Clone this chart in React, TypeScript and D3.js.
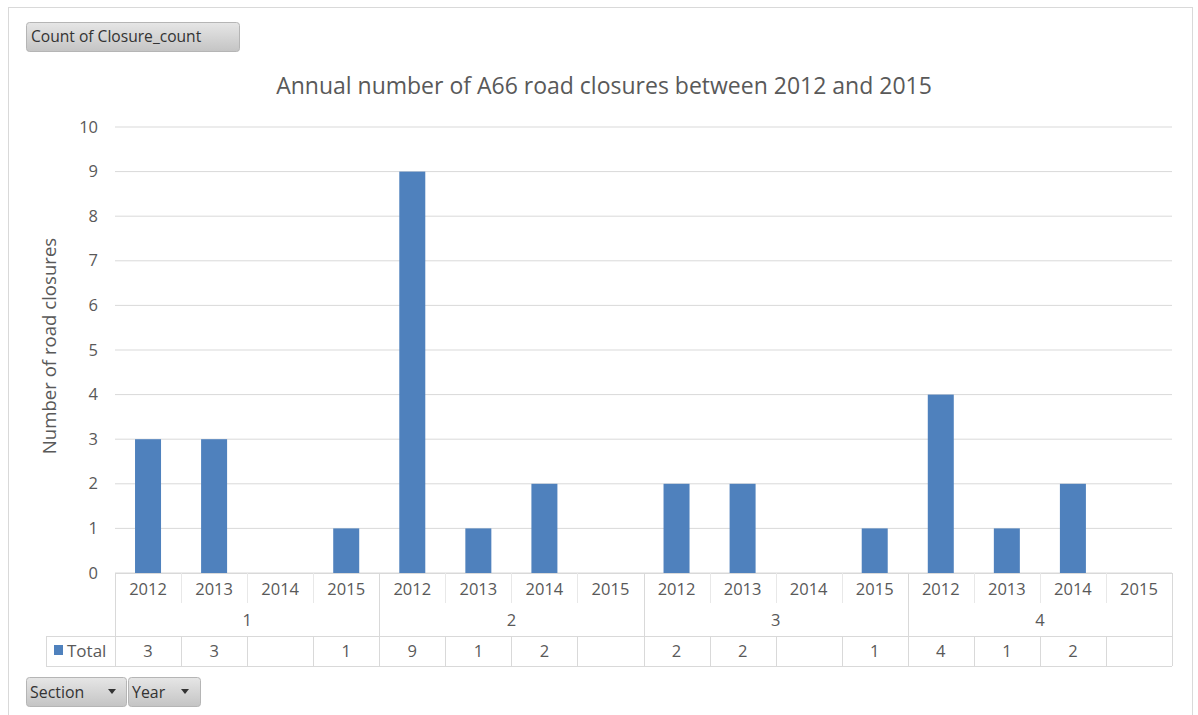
import React from "react";
import * as d3 from "d3";

const sections = ["1", "2", "3", "4"];
const years = ["2012", "2013", "2014", "2015"];
const totals: (number | null)[] = [3, 3, null, 1, 9, 1, 2, null, 2, 2, null, 1, 4, 1, 2, null];
const yTicks = [0, 1, 2, 3, 4, 5, 6, 7, 8, 9, 10];
const title = "Annual number of A66 road closures between 2012 and 2015";
const yLabel = "Number of road closures";

const FONT = "'Open Sans', Lato, sans-serif";
const TXT = "#595959";

export default function App() {
  const W = 1198, H = 715;
  const left = 115, right = 1172, top = 127, bottom = 573;
  const cats = sections.flatMap((s) => years.map((y) => `${s}|${y}`));
  const x = d3.scaleBand<string>().domain(cats).range([left, right]).paddingInner(0).paddingOuter(0);
  const y = d3.scaleLinear().domain([0, 10]).range([bottom, top]);
  const bw = 26;
  const row1 = bottom, row2 = 605, row3 = 636, row4 = 666;
  const secX = d3.scaleBand<string>().domain(sections).range([left, right]);

  return (
    <svg width={W} height={H} style={{ position: "absolute", left: 0, top: 0 }} fontFamily={FONT}>
      <defs>
        <linearGradient id="btn" x1="0" y1="0" x2="0" y2="1">
          <stop offset="0" stopColor="#e6e6e6" />
          <stop offset="1" stopColor="#c4c4c4" />
        </linearGradient>
      </defs>
      <rect x={0} y={0} width={W} height={H} fill="#fff" />
      <rect x={8.5} y={7.5} width={1184} height={720} fill="#fff" stroke="#d9d9d9" />
      {/* field button */}
      <rect x={26.5} y={22.5} width={213} height={29} rx={3} fill="url(#btn)" stroke="#b5b5b5" />
      <text x={31} y={42} fontSize={15.6} fill="#333">Count of Closure_count</text>
      {/* title */}
      <text x={604} y={94} fontSize={23} fill={TXT} textAnchor="middle">{title}</text>
      {/* gridlines */}
      {yTicks.map((t) => (
        <g key={t}>
          <line x1={left} x2={right} y1={y(t)} y2={y(t)} stroke="#d9d9d9" strokeWidth={1} />
          <text x={98} y={y(t) + 5.5} fontSize={16.5} fill={TXT} textAnchor="end">{t}</text>
        </g>
      ))}
      <text transform={`translate(56,346) rotate(-90)`} fontSize={18.6} fill={TXT} textAnchor="middle">{yLabel}</text>
      {/* bars */}
      {cats.map((c, i) => {
        const v = totals[i];
        if (v == null) return null;
        const cx = (x(c) as number) + x.bandwidth() / 2;
        return <rect key={c} x={cx - bw / 2} y={y(v)} width={bw} height={y(0) - y(v)} fill="#4f81bd" />;
      })}
      {/* table */}
      <g stroke="#d9d9d9" strokeWidth={1} fill="none">
        <line x1={left} x2={right} y1={row1 + 0.5} y2={row1 + 0.5} />
        <line x1={46} x2={right} y1={row3 + 0.5} y2={row3 + 0.5} />
        <line x1={46} x2={right} y1={row4 + 0.5} y2={row4 + 0.5} />
        <line x1={46.5} x2={46.5} y1={row3} y2={row4} />
        {cats.map((c, i) => {
          const xx = Math.round(x(c) as number) + 0.5;
          const isGroup = i % 4 === 0;
          return (
            <g key={c}>
              <line x1={xx} x2={xx} y1={row1} y2={isGroup ? row3 : row2 - 2} stroke={isGroup ? "#d9d9d9" : "#e8e8e8"} />
              <line x1={xx} x2={xx} y1={row3} y2={row4} />
            </g>
          );
        })}
        <line x1={right + 0.5} x2={right + 0.5} y1={row1} y2={row4} />
      </g>
      {cats.map((c, i) => {
        const cx = (x(c) as number) + x.bandwidth() / 2;
        const v = totals[i];
        return (
          <g key={c}>
            <text x={cx} y={row1 + 22} fontSize={16.5} fill={TXT} textAnchor="middle">{years[i % 4]}</text>
            {v != null && <text x={cx} y={row3 + 21} fontSize={16.5} fill={TXT} textAnchor="middle">{v}</text>}
          </g>
        );
      })}
      {sections.map((s) => (
        <text key={s} x={(secX(s) as number) + secX.bandwidth() / 2} y={row2 + 21} fontSize={16.5} fill={TXT} textAnchor="middle">{s}</text>
      ))}
      <rect x={54} y={645} width={9} height={10} fill="#4f81bd" />
      <text x={67} y={657} fontSize={17} fill={TXT}>Total</text>
      {/* bottom buttons */}
      <rect x={26.5} y={677.5} width={100} height={29} rx={3} fill="url(#btn)" stroke="#b5b5b5" />
      <text x={30} y={698} fontSize={15.9} fill="#333">Section</text>
      <path d="M108,689 l8,0 l-4,5 z" fill="#333" />
      <rect x={128.5} y={677.5} width={72} height={29} rx={3} fill="url(#btn)" stroke="#b5b5b5" />
      <text x={132} y={698} fontSize={15.9} fill="#333">Year</text>
      <path d="M181,689 l8,0 l-4,5 z" fill="#333" />
    </svg>
  );
}
